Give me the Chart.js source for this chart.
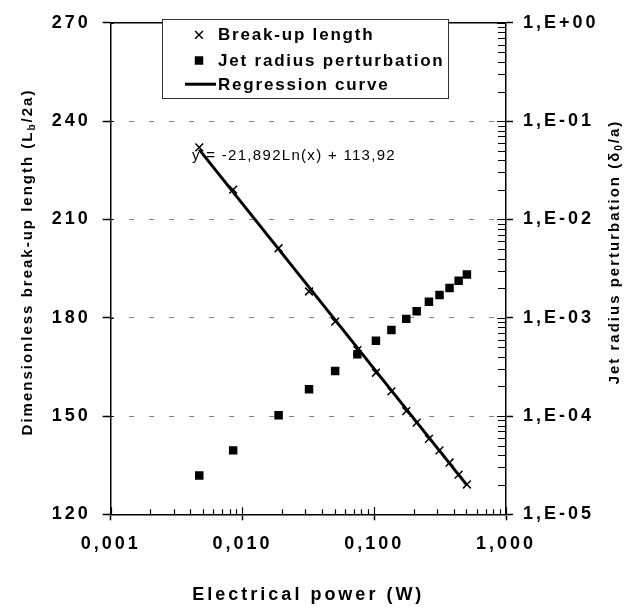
<!DOCTYPE html>
<html lang="en">
<head>
<meta charset="UTF-8" />
<title>Break-up length vs electrical power</title>
<script src="https://cdn.jsdelivr.net/npm/chart.js"></script>
<style>
  html, body { margin: 0; padding: 0; background: #fff; }
  canvas { display: block; }
</style>
</head>
<body>
<canvas id="grafico" width="638" height="613"></canvas>
<script>
// values
const power = [0.0047, 0.0085, 0.0188, 0.032, 0.0505, 0.0745, 0.103, 0.135, 0.175, 0.21, 0.26, 0.313, 0.373, 0.437, 0.505];
const breakUp = [232.0, 219.1, 201.2, 188.0, 178.8, 170.1, 163.2, 157.5, 151.5, 148.0, 143.0, 139.5, 135.8, 132.1, 129.1];
const perturbation = [2.48e-5, 4.47e-5, 1.02e-4, 1.87e-4, 2.87e-4, 4.24e-4, 5.84e-4, 7.51e-4, 9.73e-4, 1.16e-3, 1.45e-3, 1.70e-3, 2.0e-3, 2.38e-3, 2.75e-3];
const regressionX = [0.0047, 0.505];
const regressionY = [231.3, 128.9];
const equation = 'y = -21,892Ln(x) + 113,92';

// ticks
const xTicks = [0.001, 0.01, 0.1, 1];
const xTickLabels = ['0,001', '0,010', '0,100', '1,000'];
const yTicks = [120, 150, 180, 210, 240, 270];
const y2Ticks = [1e-5, 1e-4, 1e-3, 1e-2, 1e-1, 1];
const y2TickLabels = ['1,E-05', '1,E-04', '1,E-03', '1,E-02', '1,E-01', '1,E+00'];

const FONT = '"Liberation Sans", Arial, sans-serif';
Chart.defaults.font.family = FONT;
Chart.defaults.color = '#000';

// majors + 2..9 minors of each decade
function logTicks(majors) {
    const out = [];
    majors.forEach((m, i) => {
        out.push({ value: m, major: true });
        if (i < majors.length - 1) {
            for (let k = 2; k <= 9; k++) out.push({ value: m * k, major: false });
        }
    });
    return out;
}
function labelFor(list, labels, value) {
    const j = list.findIndex(t => Math.abs(t - value) / t < 1e-6);
    return j >= 0 ? labels[j] : '';
}
const majorColor = c => (c.tick && c.tick.major) ? '#000' : 'rgba(0,0,0,0)';

// text with one subscript part, rotated
function richText(ctx, parts, cx, cy, rot, font, subFont, spacing) {
    ctx.save();
    ctx.translate(cx, cy);
    ctx.rotate(rot);
    ctx.letterSpacing = spacing;
    ctx.fillStyle = '#000';
    ctx.textBaseline = 'middle';
    ctx.textAlign = 'left';
    let total = 0;
    parts.forEach(p => {
        ctx.font = p.sub ? subFont : font;
        p.w = ctx.measureText(p.t).width;
        total += p.w;
    });
    let x = -total / 2;
    parts.forEach(p => {
        ctx.font = p.sub ? subFont : font;
        ctx.fillText(p.t, x, p.sub ? 4 : 0);
        x += p.w;
    });
    ctx.restore();
}

const decor = {
    id: 'decor',
    beforeUpdate(chart) { chart.ctx.letterSpacing = '3px'; },
    beforeDraw(chart) { chart.ctx.letterSpacing = '3px'; },
    beforeDatasetsDraw(chart) {
        const ctx = chart.ctx;
        ctx.save();
        ctx.letterSpacing = '1.3px';
        ctx.font = '15px ' + FONT;
        ctx.fillStyle = '#000';
        ctx.textBaseline = 'middle';
        ctx.fillText(equation, 192, 156);
        ctx.restore();
    },
    afterDatasetsDraw(chart) {
        const ctx = chart.ctx;
        const a = chart.chartArea;
        const xs = chart.scales.x, ys = chart.scales.y, y2 = chart.scales.y2;
        ctx.save();
        ctx.letterSpacing = '0px';
        ctx.strokeStyle = '#000';

        // top frame
        ctx.lineWidth = 1.5;
        ctx.beginPath();
        ctx.moveTo(a.left, a.top);
        ctx.lineTo(a.right, a.top);
        ctx.stroke();

        // inward tick marks
        ctx.lineWidth = 1.2;
        ctx.beginPath();
        xs.ticks.forEach(t => {
            const px = Math.round(xs.getPixelForValue(t.value)) + 0.5;
            ctx.moveTo(px, a.bottom);
            ctx.lineTo(px, a.bottom - (t.major ? 7 : 5));
        });
        y2.ticks.forEach(t => {
            const py = Math.round(y2.getPixelForValue(t.value)) + 0.5;
            ctx.moveTo(a.right, py);
            ctx.lineTo(a.right - (t.major ? 9 : 8), py);
        });
        ys.ticks.forEach(t => {
            const py = Math.round(ys.getPixelForValue(t.value)) + 0.5;
            ctx.moveTo(a.left, py);
            ctx.lineTo(a.left + 3, py);
        });
        ctx.stroke();

        // legend box
        const box = { x: 162.5, y: 19.5, w: 286, h: 79 };
        const rows = [34.8, 60.5, 84.2];
        ctx.fillStyle = '#fff';
        ctx.fillRect(box.x, box.y, box.w, box.h);
        ctx.lineWidth = 1;
        ctx.strokeStyle = '#333';
        ctx.strokeRect(box.x, box.y, box.w, box.h);
        chart.data.datasets.forEach((ds, i) => {
            const y = rows[i];
            ctx.strokeStyle = '#000';
            ctx.fillStyle = '#000';
            if (ds.showLine) {
                ctx.lineWidth = ds.borderWidth;
                ctx.beginPath();
                ctx.moveTo(185, y);
                ctx.lineTo(216, y);
                ctx.stroke();
            } else {
                ctx.lineWidth = ds.pointBorderWidth;
                Chart.helpers.drawPoint(ctx, {
                    pointStyle: ds.pointStyle, radius: ds.pointRadius,
                    borderWidth: ds.pointBorderWidth, rotation: 0
                }, 199, y);
            }
            ctx.font = 'bold 17px ' + FONT;
            ctx.letterSpacing = '1.8px';
            ctx.textBaseline = 'middle';
            ctx.fillText(ds.label, 218, y + 1);
        });
        ctx.restore();

        // axis titles with subscripts
        const f = 'bold 15px ' + FONT, sf = 'bold 10px ' + FONT;
        richText(ctx, [{ t: 'Dimensionless break-up length (L' }, { t: 'b', sub: true }, { t: '/2a)' }],
            28, 262, -Math.PI / 2, f, sf, '2px');
        richText(ctx, [{ t: 'Jet radius perturbation (δ' }, { t: '0', sub: true }, { t: '/a)' }],
            615, 252, -Math.PI / 2, f, sf, '2px');
    }
};

new Chart(document.getElementById('grafico'), {
    type: 'scatter',
    data: {
        datasets: [
            {
                label: 'Break-up length',
                data: power.map((x, i) => ({ x: x, y: breakUp[i] })),
                yAxisID: 'y',
                pointStyle: 'crossRot',
                pointRadius: 5.5,
                pointBorderWidth: 1.5,
                borderColor: '#000',
                backgroundColor: '#000',
                order: 2
            },
            {
                label: 'Jet radius perturbation',
                data: power.map((x, i) => ({ x: x, y: perturbation[i] })),
                yAxisID: 'y2',
                pointStyle: 'rect',
                pointRadius: 6,
                pointBorderWidth: 0,
                borderColor: '#000',
                backgroundColor: '#000',
                order: 3
            },
            {
                label: 'Regression curve',
                data: regressionX.map((x, i) => ({ x: x, y: regressionY[i] })),
                yAxisID: 'y',
                showLine: true,
                pointRadius: 0,
                borderColor: '#000',
                borderWidth: 3,
                order: 1
            }
        ]
    },
    options: {
        responsive: false,
        animation: false,
        events: [],
        layout: { autoPadding: false, padding: { top: 11, left: 0, right: 0, bottom: 3 } },
        plugins: { legend: { display: false }, tooltip: { enabled: false } },
        scales: {
            x: {
                type: 'logarithmic',
                min: 0.001,
                max: 1,
                afterBuildTicks: s => { s.ticks = logTicks(xTicks); },
                afterFit: s => { s.height = 613 - 3 - 514.3; },
                ticks: {
                    autoSkip: false, maxRotation: 0, padding: 13,
                    font: { size: 18, weight: 'bold' },
                    callback: v => labelFor(xTicks, xTickLabels, v)
                },
                grid: { drawOnChartArea: false, tickLength: 6, tickColor: majorColor, tickWidth: 1.5 },
                border: { color: '#000', width: 1.5 },
                title: {
                    display: true, text: 'Electrical power (W)',
                    font: { size: 18, weight: 'bold' },
                    padding: { top: 0, bottom: 4 }
                }
            },
            y: {
                type: 'linear',
                position: 'left',
                min: 120,
                max: 270,
                afterBuildTicks: s => { s.ticks = yTicks.map(v => ({ value: v })); },
                afterFit: s => { s.width = 110.7; },
                ticks: { padding: 12, font: { size: 18, weight: 'bold' } },
                grid: {
                    color: c => (c.tick && (c.tick.value === 120 || c.tick.value === 270)) ? 'rgba(0,0,0,0)' : '#808080',
                    lineWidth: 1,
                    tickLength: 8,
                    tickColor: '#000',
                    tickWidth: 1.5
                },
                border: { color: '#000', width: 1.5, dash: [5, 15], dashOffset: 2.4 }
            },
            y2: {
                type: 'logarithmic',
                position: 'right',
                min: 1e-5,
                max: 1,
                afterBuildTicks: s => { s.ticks = logTicks(y2Ticks); },
                afterFit: s => { s.width = 638 - 506; },
                ticks: {
                    autoSkip: false, padding: 10,
                    font: { size: 18, weight: 'bold' },
                    callback: v => labelFor(y2Ticks, y2TickLabels, v)
                },
                grid: { drawOnChartArea: false, tickLength: 7, tickColor: majorColor, tickWidth: 1.5 },
                border: { color: '#000', width: 1.5 }
            }
        }
    },
    plugins: [decor]
});
</script>
</body>
</html>
